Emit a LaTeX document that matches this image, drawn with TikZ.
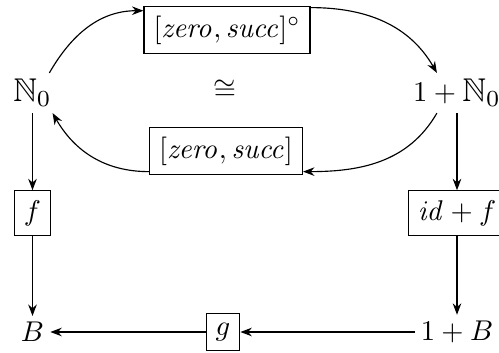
\documentclass[tikz,border=0pt]{standalone}
\usepackage{amssymb}
\usepackage{graphicx}
\usetikzlibrary{arrows.meta}
\newcommand{\bigNz}{\scalebox{1.15}{$\mathbb{N}_0$}}
\begin{document}
\begin{tikzpicture}[x=0.35pt,y=-0.35pt,
  box/.style={draw,inner sep=3.33pt},
  obj/.style={inner sep=2pt},
  arr/.style={-{Stealth[length=4pt,width=3pt]},line width=0.4pt}]
\useasboundingbox (0,0) rectangle (499,353);
\node[obj] (N0) at (32.5,93) {\bigNz};
\node[obj] (S) at (457,93) {$1+{}$\bigNz};
\node (iso) at (225,90) {$\cong$};
\node[box] (top) at (227,30) {$[\mathit{zero},\mathit{succ}]^\circ$};
\node[box] (bot) at (226,151) {$[\mathit{zero},\mathit{succ}]$};
\node[box] (f) at (32.5,213) {$f$};
\node[box] (idf) at (457,213) {$\mathit{id}+f$};
\node[obj] (B) at (32.5,332) {$B$};
\node[obj] (SB) at (457,332) {$1+B$};
\node[box] (g) at (223,332) {$g$};
\draw[arr] (N0.50) to[out=60,in=180] (top.167);
\draw[arr] (top.15) to[out=0,in=120] (S.135);
\draw[arr] (S.225) to[out=240,in=0] (bot.-15);
\draw[arr] (bot.195) to[out=180,in=-60] (N0.-45);
\draw[arr] (N0) -- (f);
\draw[arr] (f) -- (B);
\draw[arr] (S) -- (idf);
\draw[arr] (idf) -- (SB);
\draw[arr] (SB) -- (g);
\draw[arr] (g) -- (B);
\end{tikzpicture}
\end{document}
